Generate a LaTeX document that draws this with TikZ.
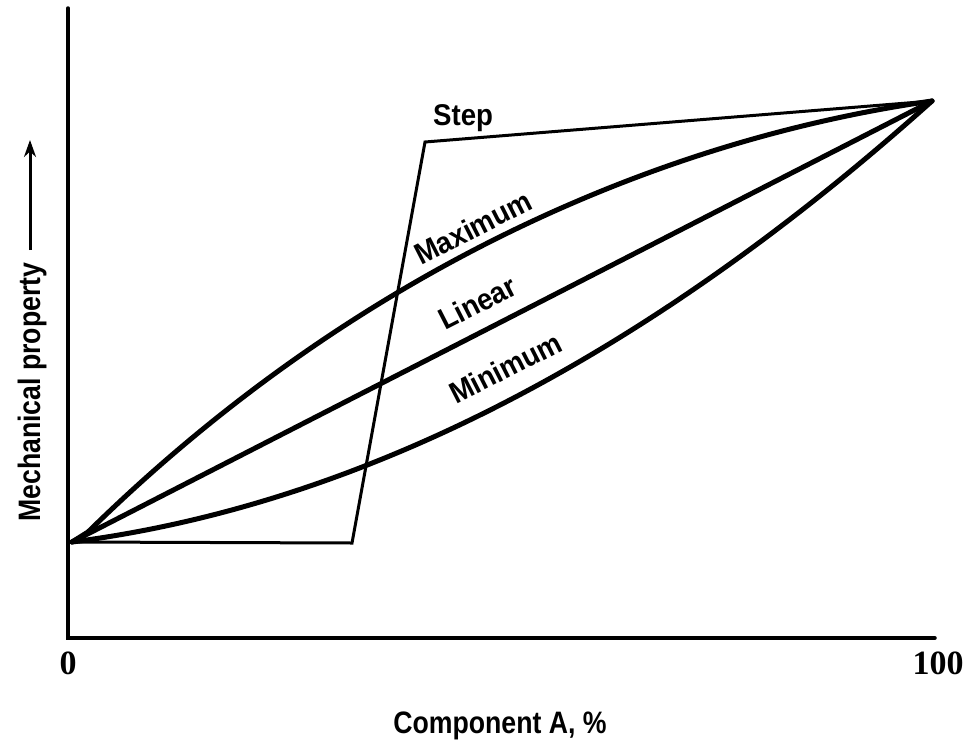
\documentclass[tikz,border=0pt]{standalone}
\usepackage{fontspec}
\setmainfont{Liberation Sans}
\newfontfamily\lblfont[FakeStretch=0.92]{Liberation Sans}
\newfontfamily\ttlfont[FakeStretch=0.86]{Liberation Sans}
\newfontfamily\numfont{Liberation Serif}
\usetikzlibrary{arrows.meta}
\begin{document}
\begin{tikzpicture}[x=1pt,y=-1pt,
  curve/.style={line width=5pt, line cap=round, line join=round},
  stepline/.style={line width=3pt, line join=miter},
  axisline/.style={line width=3.5pt, line cap=round},
  lbl/.style={font=\lblfont\fontsize{30}{30}\selectfont\bfseries, inner sep=0pt},
  ttl/.style={font=\ttlfont\fontsize{31}{31}\selectfont\bfseries, inner sep=0pt},
  num/.style={font=\numfont\fontsize{34}{34}\selectfont\bfseries, inner sep=0pt}]
\useasboundingbox (0,0) rectangle (969,744);
% axes
\coordinate (ytop) at (68,8);
\coordinate (orig) at (68,638);
\coordinate (xend) at (935,638);
\draw[axisline] (ytop) -- (orig) -- (xend);
% curve end points
\coordinate (O) at (72,542);
\coordinate (E) at (932,101);
\coordinate (S1) at (352,543);
\coordinate (S2) at (425,142);
% step
\draw[stepline] (O) -- (S1) -- (S2) -- (E);
% linear
\draw[curve] (O) -- (E);
% maximum
\draw[curve] (O) -- (88,532) .. controls (345,280) and (645,142) .. (E);
% minimum
\draw[curve] (O) .. controls (358.7,505) and (645.3,358) .. (E);
% curve labels
\node[lbl, anchor=base west] (lstep) at (433,125) {Step};
\node[lbl, anchor=base west, rotate=27] (lmax) at (421,266) {Maximum};
\node[lbl, anchor=base west, rotate=27] (llin) at (445,331) {Linear};
\node[lbl, anchor=base west, rotate=27] (lmin) at (456,405) {Minimum};
% axis numbers
\node[num, anchor=base] (n0) at (68,674) {0};
\node[num, anchor=base] (n100) at (938,674) {100};
% axis titles
\node[ttl, anchor=base] (xt) at (500,733) {Component A, \%};
\node[ttl, anchor=base west, rotate=90] (yt) at (40,522) {Mechanical property};
\coordinate (ya) at (30,250);
\coordinate (yb) at (30,140);
\draw[line width=3pt, -{Stealth[length=17pt,width=12pt]}] (ya) -- (yb);
\end{tikzpicture}
\end{document}
